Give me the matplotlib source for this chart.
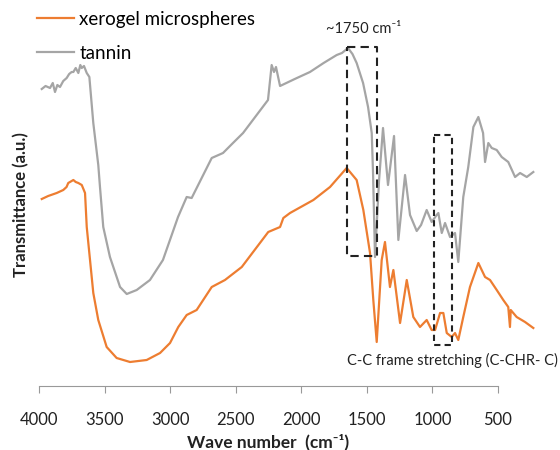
import matplotlib

matplotlib.use("Agg")
import matplotlib.pyplot as plt

plt.rcParams["font.family"] = ["Lato", "DejaVu Sans"]

# FTIR spectra, transmittance in arbitrary units
TANNIN_WN = [3979, 3950, 3916, 3895, 3878, 3860, 3840, 3815, 3789, 3770, 3751, 3738,
             3720, 3700, 3685, 3674, 3657, 3636, 3616, 3586, 3548, 3535, 3510, 3459,
             3382, 3331, 3255, 3154, 3055, 2940, 2874, 2836, 2683, 2597, 2521, 2444,
             2254, 2226, 2208, 2193, 2162, 2050, 1934, 1830, 1730, 1690, 1644, 1610,
             1578, 1529, 1491, 1463, 1453, 1438, 1407, 1377, 1339, 1293, 1260, 1209,
             1171, 1120, 1087, 1044, 1006, 968, 955, 929, 904, 866, 828, 803, 765, 727,
             688, 650, 614, 599, 574, 548, 510, 472, 422, 370, 332, 281, 231]
TANNIN_T = [297, 300, 298, 303, 294, 301, 299, 305, 308, 312, 314, 314,
            318, 313, 321, 318, 320, 313, 309, 263, 221, 199, 159, 129,
            99, 92, 96, 106, 126, 169, 189, 188, 228, 233, 243, 253,
            286, 321, 314, 319, 300, 307, 314, 323, 331, 333, 338, 332,
            323, 303, 279, 253, 213, 129, 206, 258, 201, 250, 146, 211,
            171, 155, 161, 176, 164, 171, 173, 153, 163, 149, 153, 124, 189, 219,
            259, 269, 253, 224, 243, 238, 236, 229, 224, 209, 213, 209, 214]

XEROGEL_WN = [3979, 3930, 3865, 3815, 3790, 3777, 3738, 3720, 3700, 3674, 3649, 3636,
              3611, 3586, 3548, 3484, 3408, 3306, 3179, 3077, 3001, 2938, 2874, 2798,
              2683, 2582, 2454, 2252, 2162, 2137, 2086, 1908, 1781, 1654, 1578, 1527,
              1476, 1451, 1425, 1387, 1362, 1324, 1298, 1247, 1196, 1146, 1095, 1044,
              1006, 980, 942, 917, 891, 853, 828, 803, 765, 714, 650, 599, 561, 510,
              460, 422, 409, 403, 358, 294, 231]
XEROGEL_T = [187, 190, 193, 196, 199, 203, 206, 204, 203, 201, 193, 159,
             126, 93, 66, 39, 28, 24, 26, 33, 43, 59, 71, 76,
             99, 106, 119, 154, 159, 168, 173, 186, 199, 218, 206, 176,
             133, 86, 44, 126, 144, 99, 116, 63, 106, 69, 59, 66,
             56, 56, 73, 73, 53, 49, 53, 46, 69, 99, 123, 109, 106, 96,
             86, 79, 59, 76, 69, 64, 58]

XTICKS = [4000, 3500, 3000, 2500, 2000, 1500, 1000, 500]

# dashed boxes around the bands: (wn_left, wn_right, t_low, t_high)
BOX_CO = (1654, 1425, 130, 339)
BOX_CC = (986, 849, 41, 251)

ORANGE = "#ED7D31"
GREY = "#A5A5A5"


def box(ax, b, dash):
    x0, x1, y0, y1 = b
    ax.plot([x0, x1, x1, x0, x0], [y1, y1, y0, y0, y1], color="#222222",
            lw=1.5, ls=dash)


def main() -> None:
    fig = plt.figure(figsize=(5.6, 4.5), dpi=100)
    ax = fig.add_axes([39 / 560, 64 / 450, 501 / 560, 386 / 450])

    ax.plot(TANNIN_WN, TANNIN_T, color=GREY, lw=1.6, label="tannin")
    ax.plot(XEROGEL_WN, XEROGEL_T, color=ORANGE, lw=1.6, label="xerogel microspheres")

    box(ax, BOX_CO, (0, (4, 2.5)))
    box(ax, BOX_CC, (0, (3, 2)))

    ax.text(1522, 353, "~1750 cm⁻¹", fontsize=10.5, ha="center", va="baseline",
            color="#222222")
    ax.text(45, 21, "C-C frame stretching (C-CHR- C)", fontsize=10.5, ha="right",
            va="baseline", color="#222222")

    ax.set_xlim(4000, 180)
    ax.set_ylim(0, 386)
    ax.set_xticks(XTICKS)
    ax.set_xticklabels([str(t) for t in XTICKS])
    ax.set_yticks([])
    for s in ("top", "right", "left"):
        ax.spines[s].set_visible(False)
    ax.spines["bottom"].set_bounds(500, 4000)
    ax.spines["bottom"].set_color("#999999")
    ax.tick_params(axis="x", direction="out", length=5, color="#999999",
                   labelsize=12, pad=14, labelcolor="#222222")

    handles, labels = ax.get_legend_handles_labels()
    ax.legend(handles[::-1], labels[::-1], loc="upper left",
              bbox_to_anchor=(33 / 560, 1 - 7 / 450), bbox_transform=fig.transFigure,
              frameon=False, fontsize=13.5, handlelength=2.0, handletextpad=0.27,
              labelspacing=0.9, borderaxespad=0.0, borderpad=0.2)

    fig.text(268 / 560, 1 - 442 / 450, "Wave number  (cm⁻¹)", fontsize=12.5,
             fontweight="bold", ha="center", va="center", color="#222222")
    fig.text(21 / 560, 1 - 205 / 450, "Transmittance (a.u.)", fontsize=12,
             fontweight="bold", ha="center", va="center", rotation=90,
             color="#222222")

    fig.savefig("out.png", dpi=100)


if __name__ == "__main__":
    main()
